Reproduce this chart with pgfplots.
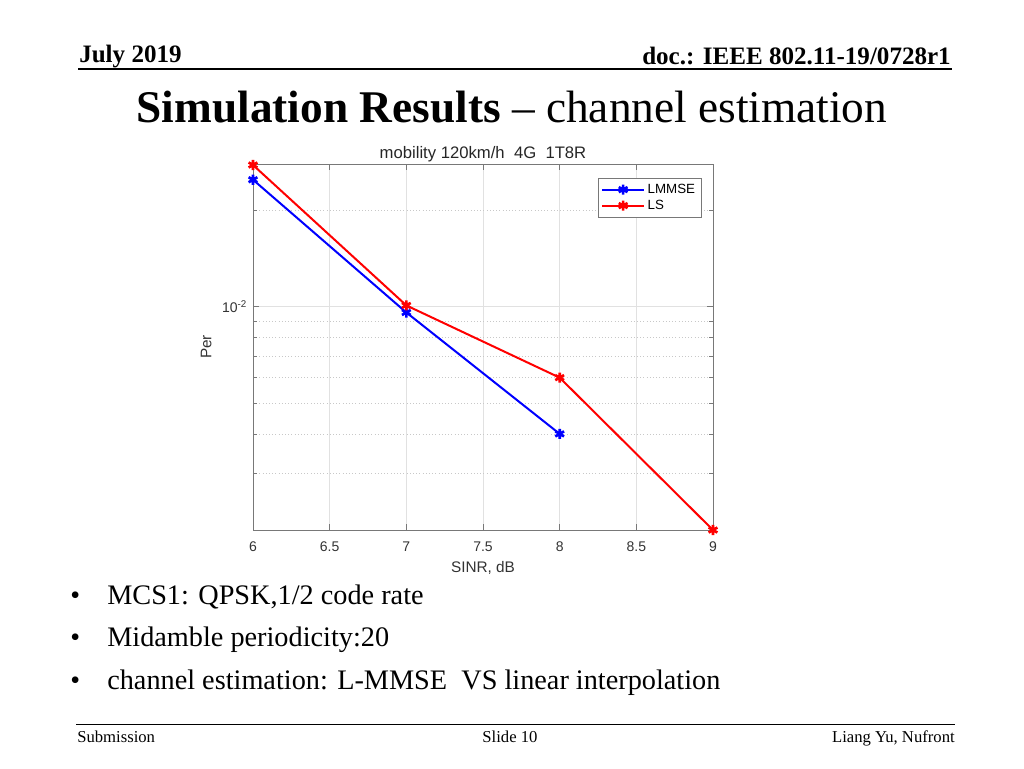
\documentclass[border=0pt]{standalone}
\usepackage{pgfplots}
\pgfplotsset{compat=1.18}
\usepackage{fontspec}
\setmainfont{Liberation Serif}
\newfontfamily\arial{Liberation Sans}

% 1 px of the slide = 0.75pt
\newcommand{\fs}[1]{\fontsize{#1}{#1}\selectfont}

\definecolor{axgray}{RGB}{120,120,120}
\definecolor{gridgray}{RGB}{225,225,225}
\definecolor{mgrid}{RGB}{200,200,200}

\begin{document}
\begin{tikzpicture}
\path[use as bounding box] (0,0) rectangle (768pt,-576pt);

\begin{scope}[x=0.75pt,y=-0.75pt]
  % header
  \node[anchor=base west,inner sep=0] at (79,62) {\fs{18.8pt}\bfseries July 2019};
  \node[anchor=base east,inner sep=0] at (951,64) {\fs{18.8pt}\bfseries doc.: IEEE 802.11-19/0728r1};
  \draw[line width=1.5pt] (78,68.5) -- (952,68.5);
  % slide title
  \node[anchor=base,inner sep=0] at (512,122) {\fs{34pt}\textbf{Simulation Results} -- channel estimation};
  % bullets
  \foreach \yy/\tx in {604/{MCS1: QPSK,1/2 code rate},
                       646/{Midamble periodicity:20},
                       689/{channel estimation: L-MMSE\ \ VS linear interpolation}} {
    \node[anchor=base west,inner sep=0] at (70,\yy) {\fs{21pt}\textbullet};
    \node[anchor=base west,inner sep=0] at (107,\yy) {\fs{21.2pt}\tx};
  }
  % footer
  \draw[line width=1.2pt] (76,724.5) -- (955,724.5);
  \node[anchor=base west,inner sep=0] at (77,742) {\fs{12.5pt}Submission};
  \node[anchor=base,inner sep=0] at (510,742) {\fs{12.5pt}Slide 10};
  \node[anchor=base east,inner sep=0] at (955,742) {\fs{12.5pt}Liang Yu, Nufront};
\end{scope}

\begin{axis}[
  at={(189.75pt,-397.5pt)}, anchor=south west,
  scale only axis,
  width=345pt, height=274.5pt,
  ymode=log,
  xmin=6, xmax=9,
  ymin=0.002, ymax=0.028,
  xtick={6,6.5,...,9},
  ytick={0.01},
  yticklabels={10\textsuperscript{-2}},
  minor ytick={0.003,0.004,0.005,0.006,0.007,0.008,0.009,0.02},
  tick align=inside,
  major tick length=4.5pt,
  minor tick length=3pt,
  axis line style={axgray, line width=0.7pt},
  every tick/.style={axgray, line width=0.5pt},
  xmajorgrids, ymajorgrids, yminorgrids,
  major grid style={gridgray, line width=0.5pt},
  minor grid style={mgrid, dotted, line width=0.5pt},
  tick label style={font=\arial\fs{10.5pt}, text=black!80},
  /pgf/number format/assume math mode=true,
  xticklabel style={yshift=-5pt},
  yticklabel style={xshift=-1pt},
  xlabel={SINR, dB},
  ylabel={Per},
  label style={font=\arial\fs{11.5pt}, text=black!80},
  xlabel style={yshift=-1pt},
  ylabel style={yshift=1pt},
  title={mobility 120km/h\ \ 4G\ \ 1T8R},
  title style={font=\arial\fs{12.5pt}, text=black!85, yshift=-8pt},
  legend style={at={(0.975,0.963)}, anchor=north east,
    font=\arial\fs{10pt}, draw=axgray, line width=0.6pt,
    row sep=-0.5pt, inner sep=2.5pt},
  legend cell align=left,
  legend image code/.code={
    \draw[#1] (0cm,0cm) -- (1.1cm,0cm);
    \draw[#1,mark repeat=2,mark phase=2] plot coordinates {(0cm,0cm) (0.55cm,0cm) (1.1cm,0cm)};
  },
  clip=false,
]
\addplot[blue, line width=1.5pt, mark=asterisk, mark size=3.8pt,
  mark options={line width=2pt}] coordinates {
  (6,0.025) (7,0.0096) (8,0.004)
};
\addlegendentry{LMMSE}
\addplot[red, line width=1.5pt, mark=asterisk, mark size=3.8pt,
  mark options={line width=2pt}] coordinates {
  (6,0.0278) (7,0.0101) (8,0.006) (9,0.002)
};
\addlegendentry{LS}
\end{axis}
\end{tikzpicture}
\end{document}
